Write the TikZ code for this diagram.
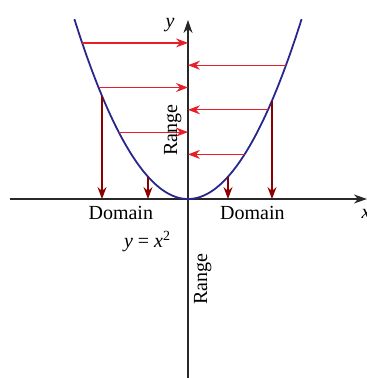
\documentclass[tikz,border=0pt]{standalone}
\usepackage{fontspec}
\setmainfont{Liberation Serif}
\usetikzlibrary{arrows.meta}

\definecolor{curveblue}{RGB}{40,40,140}
\definecolor{maparrowred}{RGB}{230,30,40}
\definecolor{dropred}{RGB}{140,0,0}
\definecolor{axisgray}{RGB}{40,40,40}

\begin{document}
\begin{tikzpicture}[
    x=20pt, y=11.15pt,
    every node/.style={font=\normalsize},
    axisline/.style={draw=axisgray, line width=0.6pt,
      -{Stealth[length=6.5pt, width=4.5pt, inset=2pt]}},
    maparrow/.style={draw=maparrowred, line width=0.6pt,
      -{Stealth[length=6pt, width=4.5pt, inset=2pt]}},
    droparrow/.style={draw=dropred, line width=0.6pt,
      -{Stealth[length=6pt, width=4.5pt, inset=2pt]}},
  ]
  \useasboundingbox (-4.7,-8.027) rectangle (4.475,8.924);

  % axes
  \coordinate (xstart) at (-4.45,0);
  \coordinate (xend) at (4.475,0);
  \coordinate (ystart) at (0,-8.05);
  \coordinate (yend) at (0,8.03);
  \draw[axisline] (xstart) -- (xend);
  \draw[axisline] (ystart) -- (yend);

  % the curve
  \draw[curveblue, line width=0.9pt]
    plot[domain=-2.84:2.84, samples=120, smooth] (\x,{\x*\x});

  % from the curve to the y axis
  \foreach \h in {7,5,3} {
    \coordinate (L\h) at ({-sqrt(\h)},\h);
    \coordinate (AL\h) at (0,\h);
    \draw[maparrow] (L\h) -- (AL\h);
  }
  \foreach \h in {6,4,2} {
    \coordinate (R\h) at ({sqrt(\h)},\h);
    \coordinate (AR\h) at (0,\h);
    \draw[maparrow] (R\h) -- (AR\h);
  }

  % from the curve down to the x axis
  \foreach \u [count=\i] in {-2.15,-1,1,2.1} {
    \coordinate (P\i) at (\u,{\u*\u});
    \coordinate (D\i) at (\u,0);
    \draw[droparrow] (P\i) -- (D\i);
  }

  \node (ylab) at (-0.45,7.8) {\textit{y}};
  \node (xlab) at (4.45,-0.65) {\textit{x}};
  \node (domL) at (-1.68,-0.63) {Domain};
  \node (domR) at (1.61,-0.63) {Domain};
  \node (eqn) at (-1.01,-1.91) {\textit{y} = \textit{x}\textsuperscript{2}};
  \node[rotate=90] (rangeU) at (-0.38,3.09) {Range};
  \node[rotate=90] (rangeD) at (0.37,-3.59) {Range};
\end{tikzpicture}
\end{document}
